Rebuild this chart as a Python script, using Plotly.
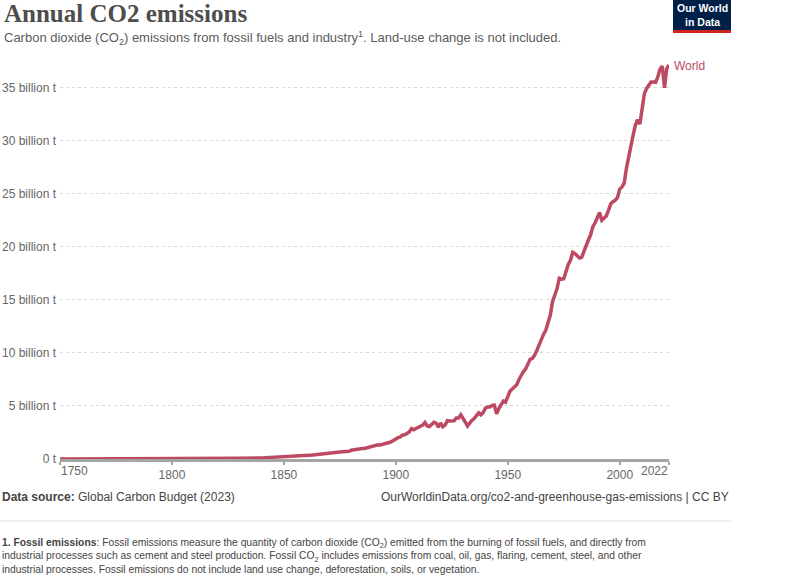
import plotly.graph_objects as go

years_early = [1750, 1760, 1770, 1780, 1790, 1800, 1810, 1820, 1830, 1840, 1845]
values_early = [0.0094, 0.0103, 0.0117, 0.0128, 0.0150, 0.0281, 0.0355, 0.0435, 0.0692, 0.104, 0.150]

years_late = list(range(1850, 2023))
values_late = [
    0.197, 0.198, 0.207, 0.217, 0.255, 0.259, 0.276, 0.280, 0.282, 0.300,
    0.340, 0.360, 0.360, 0.380, 0.410, 0.440, 0.450, 0.480, 0.490, 0.510,
    0.530, 0.570, 0.620, 0.660, 0.630, 0.660, 0.680, 0.690, 0.690, 0.730,
    0.820, 0.870, 0.910, 0.970, 0.990, 0.990, 1.000, 1.050, 1.150, 1.160,
    1.260, 1.320, 1.340, 1.320, 1.360, 1.440, 1.480, 1.550, 1.630, 1.790,
    1.950, 2.010, 2.070, 2.270, 2.280, 2.420, 2.550, 2.870, 2.750, 2.870,
    3.000, 3.050, 3.200, 3.450, 3.120, 3.060, 3.320, 3.460, 3.380, 3.000,
    3.400, 3.050, 3.200, 3.620, 3.580, 3.630, 3.610, 3.870, 3.870, 4.170,
    3.870, 3.490, 3.100, 3.390, 3.650, 3.810, 4.130, 4.360, 4.160, 4.390,
    4.800, 4.900, 4.900, 5.050, 5.080, 4.250, 4.760, 5.190, 5.470, 5.370,
    6.000, 6.400, 6.600, 6.800, 7.000, 7.500, 7.950, 8.250, 8.500, 8.950,
    9.400, 9.500, 9.800, 10.26, 10.80, 11.24, 11.77, 12.16, 12.79, 13.57,
    14.86, 15.43, 16.07, 17.04, 16.96, 17.00, 17.79, 18.34, 18.74, 19.48,
    19.37, 19.10, 18.96, 19.02, 19.59, 20.28, 20.65, 21.16, 21.90, 22.27,
    22.76, 23.24, 22.52, 22.68, 22.92, 23.46, 24.06, 24.26, 24.40, 24.66,
    25.45, 25.65, 26.02, 27.43, 28.63, 29.57, 30.56, 31.48, 31.99, 31.58,
    33.36, 34.45, 34.94, 35.33, 35.55, 35.55, 35.52, 36.03, 36.77, 37.04,
    35.01, 36.82, 37.15,
]

years = years_early + years_late
values = values_early + values_late

y_ticks = [0, 5, 10, 15, 20, 25, 30, 35]
y_tick_labels = ["0 t", "5 billion t", "10 billion t", "15 billion t", "20 billion t",
                 "25 billion t", "30 billion t", "35 billion t"]
x_ticks = [1750, 1800, 1850, 1900, 1950, 2000, 2022]
x_tick_labels = ["1750", "1800", "1850", "1900", "1950", "2000", "2022"]

LINE = "#bd4a63"
GREY = "#666666"
SANS = "Liberation Sans, Arial, sans-serif"

L, R, T, B = 60, 131, 56, 120
PW, PH = 800 - L - R, 579 - T - B

def px_x(xpx):
    return (xpx - L) / PW
def px_y(ypx):
    return (579 - B - ypx) / PH

fig = go.Figure()
fig.add_trace(go.Scatter(
    x=years, y=values, mode="lines",
    line=dict(color=LINE, width=3.5),
    cliponaxis=False, showlegend=False, hoverinfo="skip",
))

# middle x tick labels via axis, end labels shifted inward via annotations
mid_text = [t if i not in (0, len(x_tick_labels) - 1) else "" for i, t in enumerate(x_tick_labels)]

fig.update_layout(
    width=800, height=579,
    margin=dict(l=L, r=R, t=T, b=B, autoexpand=False),
    paper_bgcolor="white", plot_bgcolor="white",
    font=dict(family=SANS, color=GREY, size=12),
    xaxis=dict(
        range=[1750, 2022], tickvals=x_ticks, ticktext=mid_text,
        showgrid=False, zeroline=False, automargin=False,
        showline=True, linecolor="#a5a5a5", linewidth=3,
        ticks="outside", ticklen=3, tickwidth=2, tickcolor="#a5a5a5",
        tickfont=dict(size=12, color=GREY),
    ),
    yaxis=dict(
        range=[0, 38], tickvals=y_ticks, ticktext=y_tick_labels,
        showgrid=True, gridcolor="#d9d9d9", griddash="dot", gridwidth=1,
        zeroline=False, showline=False, ticks="", automargin=False,
        ticklabelstandoff=3,
        tickfont=dict(size=12, color=GREY),
    ),
)

annos = []
def ann(xpx, ypx, text, size=12, color=GREY, family=SANS, xanchor="left", yanchor="middle"):
    annos.append(dict(
        xref="paper", yref="paper", x=px_x(xpx), y=px_y(ypx),
        text=text, showarrow=False, xanchor=xanchor, yanchor=yanchor, align="left",
        font=dict(size=size, color=color, family=family),
    ))

ann(2, 14, "<b>Annual CO2 emissions</b>", size=25, color="#4d4d4d",
    family="Liberation Serif, DejaVu Serif, serif")
ann(2, 38, "Carbon dioxide (CO<sub>2</sub>) emissions from fossil fuels and industry<sup>1</sup>. Land-use change is not included.",
    size=13, color="#5b5b5b")
ann(672, 66, "World", size=12, color=LINE)
ann(59, 471, x_tick_labels[0], size=12, color=GREY)
ann(670, 471, x_tick_labels[-1], size=12, color=GREY, xanchor="right")
ann(0, 497, "<b>Data source:</b> Global Carbon Budget (2023)", size=12, color="#444444")
ann(731, 497, "OurWorldinData.org/co2-and-greenhouse-gas-emissions | CC BY", size=12,
    color="#444444", xanchor="right")
ann(0, 556,
    "<b>1. Fossil emissions</b>: Fossil emissions measure the quantity of carbon dioxide (CO<sub>2</sub>) emitted from the burning of fossil fuels, and directly from<br>"
    "industrial processes such as cement and steel production. Fossil CO<sub>2</sub> includes emissions from coal, oil, gas, flaring, cement, steel, and other<br>"
    "industrial processes. Fossil emissions do not include land use change, deforestation, soils, or vegetation.",
    size=10.3, color="#444444")

annos.append(dict(
    xref="paper", yref="paper", x=px_x(702), y=px_y(15),
    text="<b>Our World<br>in Data</b>", showarrow=False, xanchor="center", yanchor="middle",
    font=dict(size=10.5, color="white", family=SANS),
))
fig.update_layout(annotations=annos)

fig.add_shape(type="rect", xref="paper", yref="paper",
              x0=px_x(673), x1=px_x(731), y0=px_y(30), y1=px_y(0),
              fillcolor="#002147", line=dict(width=0), layer="below")
fig.add_shape(type="rect", xref="paper", yref="paper",
              x0=px_x(673), x1=px_x(731), y0=px_y(33), y1=px_y(30),
              fillcolor="#ce261e", line=dict(width=0), layer="below")
fig.add_shape(type="line", xref="paper", yref="paper",
              x0=px_x(0), x1=px_x(731), y0=px_y(521), y1=px_y(521),
              line=dict(color="#e0e0e0", width=1))

fig.write_html("out.html")
